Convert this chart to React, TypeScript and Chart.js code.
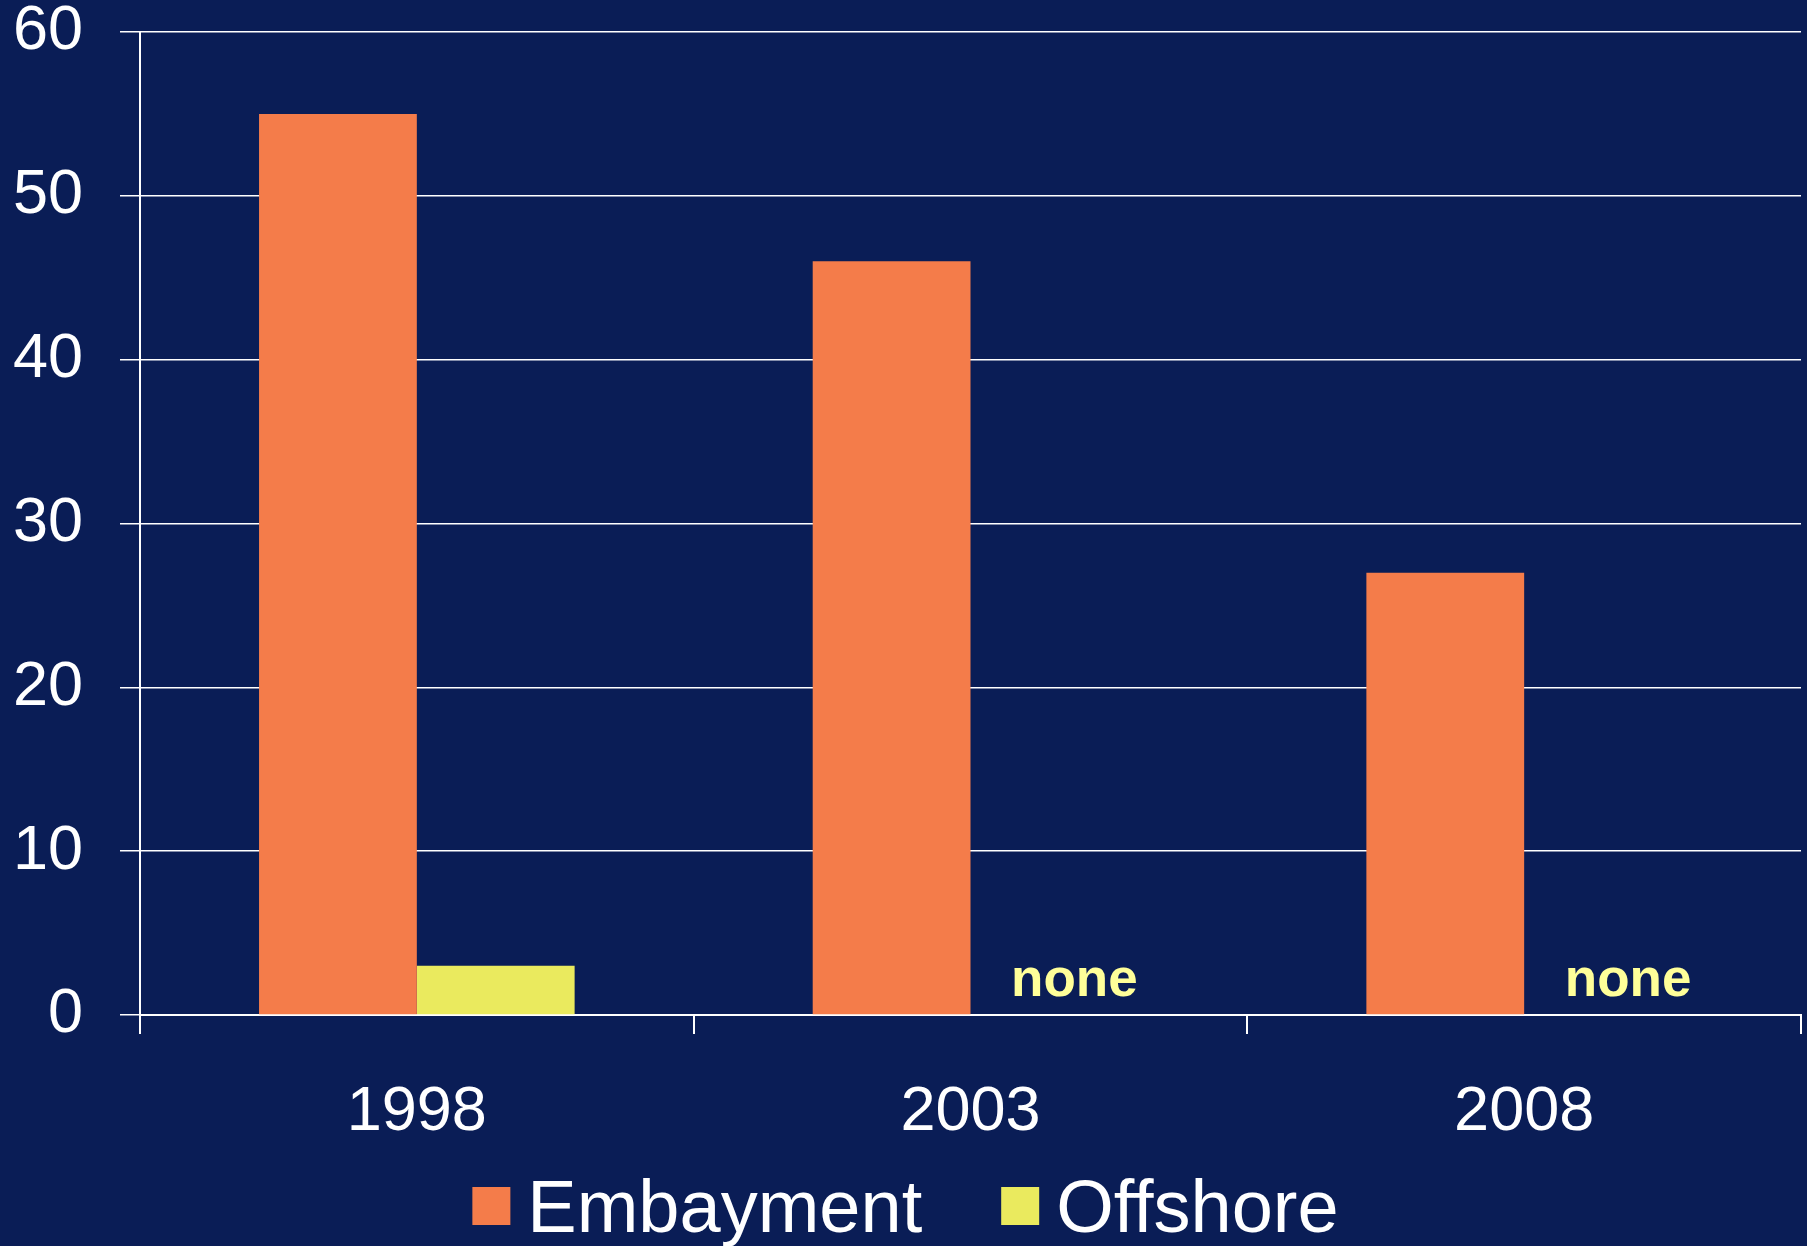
import React, { useEffect, useRef } from "react";
import { Chart, registerables } from "chart.js";

Chart.register(...registerables);

const categories = ["1998", "2003", "2008"];
const embaymentValues = [55, 46, 27];
const offshoreValues: (number | null)[] = [3, null, null];
const offshoreNotes = ["", "none", "none"];
const yTicks = [0, 10, 20, 30, 40, 50, 60];

const BG = "#0A1D56";
const ORANGE = "#F47C4A";
const YELLOW = "#EAEA5E";
const NOTE = "#FFFF99";
const FONT = "'Liberation Sans', Arial, Helvetica, sans-serif";

const W = 1807;
const H = 1246;

export default function App() {
  const ref = useRef<HTMLCanvasElement | null>(null);

  useEffect(() => {
    document.body.style.margin = "0";
    document.body.style.background = BG;
    document.body.style.overflow = "hidden";
    const canvas = ref.current;
    if (!canvas) return;

    const notesPlugin = {
      id: "notes",
      afterDatasetsDraw(chart: any) {
        const ctx = chart.ctx;
        const meta = chart.getDatasetMeta(1);
        const ref0 = chart.getDatasetMeta(0);
        ctx.save();
        ctx.font = `bold 53px ${FONT}`;
        ctx.fillStyle = NOTE;
        ctx.textAlign = "center";
        ctx.textBaseline = "alphabetic";
        offshoreNotes.forEach((t, i) => {
          if (!t) return;
          const el = meta.data[i];
          let x = el && isFinite(el.x) ? el.x : NaN;
          if (!isFinite(x)) {
            const e0 = ref0.data[i];
            x = e0.x + e0.width;
          }
          const y = chart.scales.y.getPixelForValue(0) - 19;
          ctx.fillText(t, x + 25, y);
        });
        ctx.restore();
      },
    };

    const legendPlugin = {
      id: "customLegend",
      afterDraw(chart: any) {
        const ctx = chart.ctx;
        ctx.save();
        ctx.font = `74px ${FONT}`;
        const box = 38;
        const gap = 17;
        const itemGap = 79;
        const items = chart.data.datasets.map((d: any) => ({
          label: d.label,
          color: d.backgroundColor,
          w: ctx.measureText(d.label).width,
        }));
        const total =
          items.reduce((s: number, it: any) => s + box + gap + it.w, 0) +
          itemGap * (items.length - 1);
        let x = chart.width / 2 - total / 2 + 2;
        const cy = 1206;
        items.forEach((it: any) => {
          ctx.fillStyle = it.color;
          ctx.fillRect(x, cy - box / 2, box, box);
          ctx.fillStyle = "#FFFFFF";
          ctx.textAlign = "left";
          ctx.textBaseline = "alphabetic";
          ctx.fillText(it.label, x + box + gap, cy + 26);
          x += box + gap + it.w + itemGap;
        });
        ctx.restore();
      },
    };

    const chart = new Chart(canvas, {
      type: "bar",
      data: {
        labels: categories,
        datasets: [
          {
            label: "Embayment",
            data: embaymentValues,
            backgroundColor: ORANGE,
            borderWidth: 0,
            categoryPercentage: 0.57,
            barPercentage: 1,
          },
          {
            label: "Offshore",
            data: offshoreValues,
            backgroundColor: YELLOW,
            borderWidth: 0,
            categoryPercentage: 0.57,
            barPercentage: 1,
          },
        ],
      },
      options: {
        responsive: false,
        animation: false,
        layout: { padding: { top: 32, right: 6, bottom: 71, left: 0 } },
        plugins: {
          legend: { display: false },
          tooltip: { enabled: false },
        },
        scales: {
          x: {
            grid: {
              offset: true,
              drawOnChartArea: false,
              drawTicks: true,
              tickLength: 19,
              color: "#FFFFFF",
              lineWidth: 2,
            },
            border: { display: true, color: "#FFFFFF", width: 2 },
            ticks: {
              color: "#FFFFFF",
              font: { family: FONT, size: 63 },
              padding: 41,
              maxRotation: 0,
            },
            afterFit(scale: any) {
              scale.height = 160;
              scale.paddingLeft = 0;
              scale.paddingRight = 0;
            },
          },
          y: {
            min: 0,
            max: 60,
            afterBuildTicks(scale: any) {
              scale.ticks = yTicks.map((v) => ({ value: v }));
            },
            grid: {
              color: "#FFFFFF",
              lineWidth: 1.5,
              drawTicks: true,
              tickLength: 20,
            },
            border: { display: true, color: "#FFFFFF", width: 2 },
            ticks: {
              color: "#FFFFFF",
              font: { family: FONT, size: 63 },
              padding: 37,
            },
            afterFit(scale: any) {
              scale.width = 140;
              scale.paddingTop = 0;
              scale.paddingBottom = 0;
            },
          },
        },
      },
      plugins: [notesPlugin, legendPlugin],
    });

    return () => chart.destroy();
  }, []);

  return (
    <div style={{ width: W, height: H, background: BG }}>
      <canvas ref={ref} width={W} height={H} style={{ display: "block" }} />
    </div>
  );
}
